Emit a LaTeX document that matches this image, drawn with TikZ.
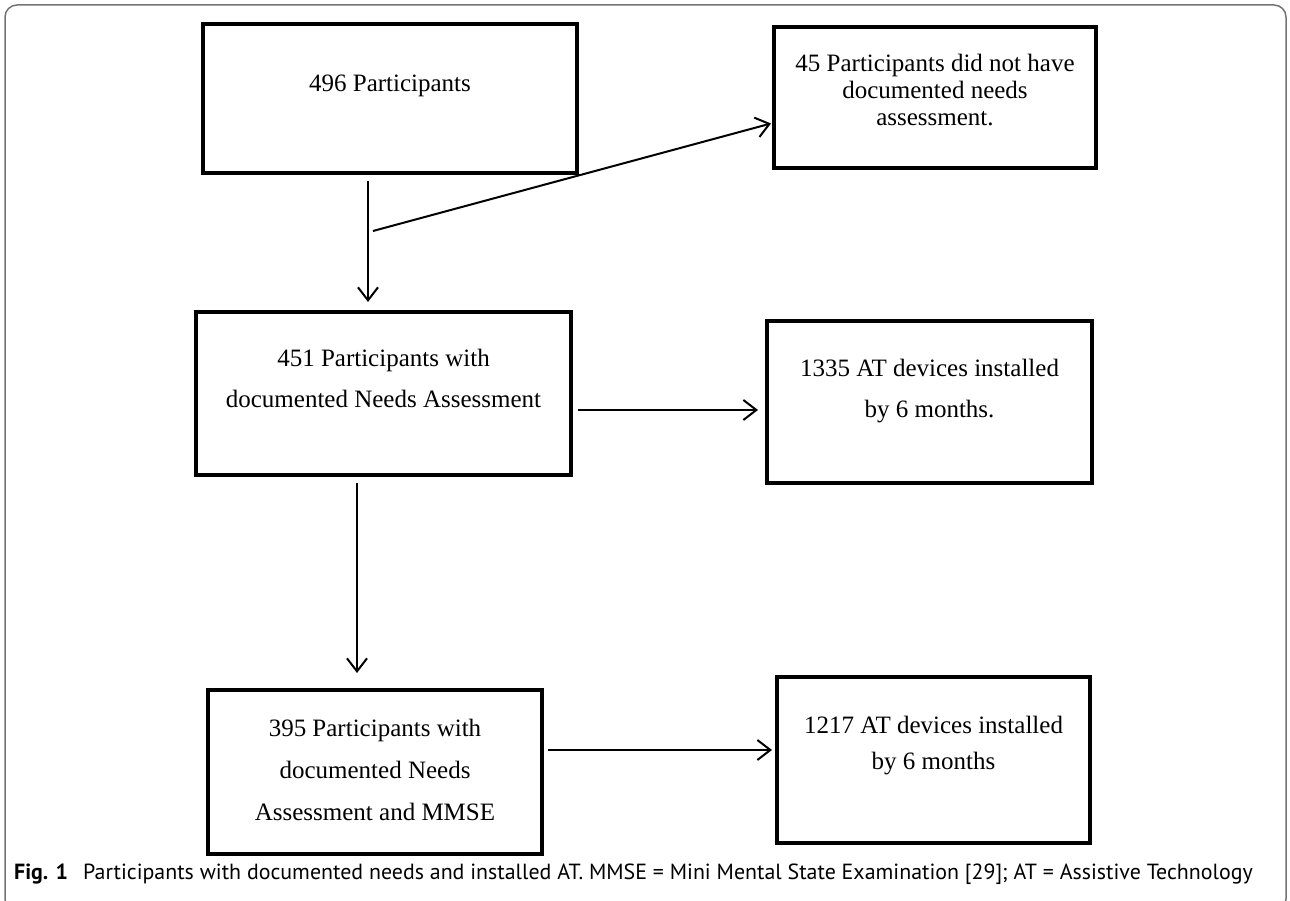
\documentclass[tikz,border=0pt]{standalone}
\usepackage{fontspec}
\setmainfont{Liberation Serif}
\newfontfamily\capfont{PT Sans}
\usetikzlibrary{positioning,arrows.meta}

\begin{document}
\begin{tikzpicture}[x=1pt, y=1pt,
  box/.style={draw, line width=4.5pt, inner sep=0pt, outer sep=0pt},
  txt/.style={align=center, inner sep=0pt, font=\fontsize{25}{41}\selectfont},
  arr/.style={line width=2pt, -{Straight Barb[length=13pt, width=20pt]}}]
\useasboundingbox (0,0) rectangle (1290,901);
\draw[black!55, line width=1.5pt, rounded corners=12pt] (5,896) rectangle (1286,-10);

\node[box, minimum width=374pt, minimum height=149pt] (n496) at (390,802.5) {};
\node[box, minimum width=322pt, minimum height=141pt] (n45) at (935,803.5) {};
\node[box, minimum width=375pt, minimum height=163pt] (n451) at (383.5,507.5) {};
\node[box, minimum width=325pt, minimum height=162pt] (n1335) at (929.5,499) {};
\node[box, minimum width=334pt, minimum height=164pt] (n395) at (375,129) {};
\node[box, minimum width=313pt, minimum height=166pt] (n1217) at (933.5,141) {};

\node[txt, below=51pt of n496.north] (t496) {496 Participants};
\node[txt, font=\fontsize{25}{27}\selectfont, below=27pt of n45.north] (t45) {45 Participants did not have\\documented needs\\assessment.};
\node[txt, below=36.5pt of n451.north] (t451) {451 Participants with\\documented Needs Assessment};
\node[txt, below=37.5pt of n1335.north] (t1335) {1335 AT devices installed\\by 6 months.};
\node[txt, font=\fontsize{25}{42}\selectfont, below=29pt of n395.north] (t395) {395 Participants with\\documented Needs\\Assessment and MMSE};
\node[txt, font=\fontsize{25}{36}\selectfont, below=39pt of n1217.north] (t1217) {1217 AT devices installed\\by 6 months};

\coordinate (fork) at (373,670);
\draw[arr] ([xshift=-22pt, yshift=-8pt]n496.south) -- ([xshift=-15.5pt, yshift=10pt]n451.north);
\draw[arr] (fork) -- ([xshift=-3pt, yshift=-26pt]n45.west);
\draw[arr] ([xshift=7pt, yshift=-16.5pt]n451.east) -- ([xshift=-9pt, yshift=-8pt]n1335.west);
\draw[arr] ([xshift=-26.5pt, yshift=-8pt]n451.south) -- ([xshift=-18pt, yshift=17pt]n395.north);
\draw[arr] ([xshift=6pt, yshift=22pt]n395.east) -- ([xshift=-5pt, yshift=10pt]n1217.west);

\node[anchor=west, inner sep=0pt, font=\capfont\fontsize{21.9}{26}\selectfont] (caption) at (14,27)
  {\textbf{Fig. 1}\hspace{15pt}Participants with documented needs and installed AT. MMSE = Mini Mental State Examination [29]; AT = Assistive Technology};
\end{tikzpicture}
\end{document}
